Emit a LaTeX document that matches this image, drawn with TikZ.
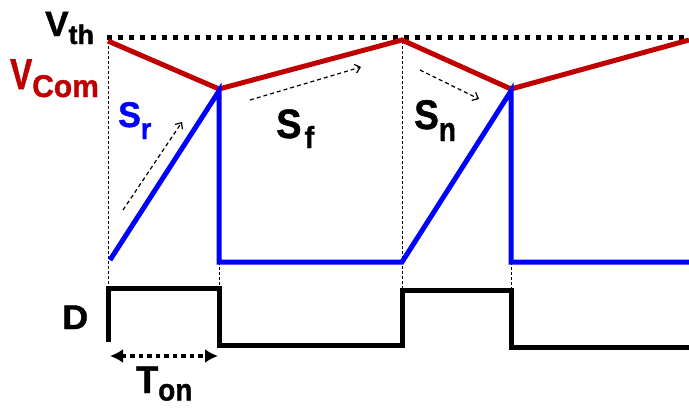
\documentclass[tikz,border=0pt]{standalone}
\usepackage{fontspec}
\setmainfont{Liberation Sans}[BoldFeatures={FakeBold=1.2}]
\usetikzlibrary{arrows.meta}
\definecolor{vred}{HTML}{C00000}
\definecolor{vblue}{HTML}{0000FF}
\tikzset{
  lbl/.style={font=\bfseries, inner sep=0pt, anchor=base west},
  guide/.style={black, line width=1pt, dash pattern=on 3pt off 2pt},
  hint/.style={black, line width=1.2pt, dash pattern=on 4pt off 3pt, -{Straight Barb[length=5pt,width=9pt]}},
  wave/.style={line width=5pt, line join=miter},
}
% #1 main size, #2 main yscale, #3 main text, #4 sub size, #5 sub yscale, #6 sub text, #7 sub raise
\newcommand{\mylab}[7]{\scalebox{1}[#2]{\fontsize{#1}{#1}\selectfont #3}\raisebox{#7}{\scalebox{1}[#5]{\fontsize{#4}{#4}\selectfont #6}}}
\begin{document}
\begin{tikzpicture}[x=1pt,y=-1pt]
\useasboundingbox (0,0) rectangle (689,408);
% key points
\coordinate (p0) at (108,41);
\coordinate (v1) at (219,89);
\coordinate (p1) at (402,40);
\coordinate (v2) at (511,89);
\coordinate (p2) at (689,40);
% guides
\draw[guide] (108,41) -- (108,288);
\draw[guide] (219,92) -- (219,288);
\draw[guide] (402,41) -- (402,290);
\draw[guide] (511,92) -- (511,290);
% Vth dotted line
\draw[black, line width=5pt, dash pattern=on 5pt off 6pt] (107,37) -- (689,37);
% red VCom
\draw[wave, vred] (p0) -- (v1) -- (p1) -- (v2) -- (p2);
% blue ramp
\draw[wave, vblue] (110,260) -- (219,91) -- (219,262) -- (402,262) -- (511,91) -- (511,262) -- (689,262);
% D waveform
\draw[wave, black] (108,342) -- (108,288) -- (219,288) -- (219,345) -- (402,345) -- (402,290) -- (511,290) -- (511,347) -- (689,347);
% Ton arrow
\draw[black, line width=4pt, dash pattern=on 4.5pt off 4pt, {Latex[length=13pt,width=14pt]}-{Latex[length=13pt,width=14pt]}] (110,356) -- (218,356);
% hint arrows
\draw[hint] (123,210) -- (182,122);
\draw[hint] (250,100) -- (361,67);
\draw[hint] (420,70) -- (479,99);
% labels
\node[lbl] (vth) at (45,36) {\mylab{35}{1}{V}{27}{1}{th}{-8pt}};
\node[lbl, text=vred] (vcom) at (10,89) {\mylab{33}{1.3}{V}{30}{1.05}{Com}{-8pt}};
\node[lbl, text=vblue] (sr) at (118,127) {\mylab{34}{1.05}{S}{27}{1.1}{r}{-12pt}};
\node[lbl] (sf) at (276,138) {\mylab{38}{1.08}{S}{29}{1.05}{\hspace{3pt}f}{-10pt}};
\node[lbl] (sn) at (414,129) {\mylab{37}{1.12}{S}{28}{1.2}{n}{-12pt}};
\node[lbl] (d) at (62,329) {\scalebox{1}[0.95]{\fontsize{36}{36}\selectfont D}};
\node[lbl] (ton) at (136,393) {\mylab{36}{1.08}{T}{28}{1.1}{on}{-7.5pt}};
\end{tikzpicture}
\end{document}
